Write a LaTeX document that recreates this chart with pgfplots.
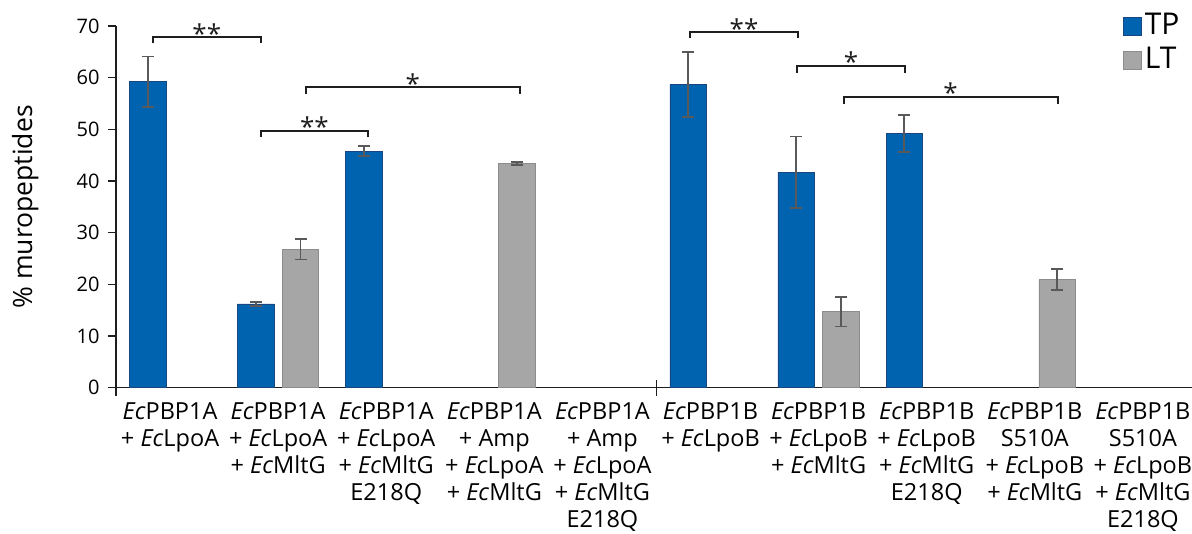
\documentclass[border=0pt]{standalone}
\usepackage{pgfplots}
\pgfplotsset{compat=1.18}
\usepackage{fontspec}
\setmainfont{Open Sans}
\definecolor{tpblue}{RGB}{0,99,175}
\definecolor{tpedge}{RGB}{25,70,130}
\definecolor{ltgray}{RGB}{166,166,166}
\definecolor{ltedge}{RGB}{140,140,140}
\definecolor{errc}{RGB}{89,89,89}
\definecolor{axc}{RGB}{30,30,30}
\begin{document}
\begin{tikzpicture}
\path[use as bounding box] (0pt,0pt) rectangle (1192pt,534pt);
\begin{axis}[
  at={(116pt,146.3pt)}, anchor=south west,
  scale only axis, width=1081pt, height=361.7pt,
  xmin=-0.5, xmax=9.5, ymin=0, ymax=70,
  ybar, bar width=0.338,
  axis x line=bottom, axis y line=left,
  axis line style={-, line width=1.6pt, axc},
  ytick={0,10,...,70},
  tick align=outside,
  major tick length=8pt,
  ytick style={line width=1.5pt, axc},
  xtick={0,...,9},
  xtick style={draw=none},
  xticklabels={
    {\textit{Ec}PBP1A\\+ \textit{Ec}LpoA},
    {\textit{Ec}PBP1A\\+ \textit{Ec}LpoA\\+ \textit{Ec}MltG},
    {\textit{Ec}PBP1A\\+ \textit{Ec}LpoA\\+ \textit{Ec}MltG\\E218Q},
    {\textit{Ec}PBP1A\\+ Amp\\+ \textit{Ec}LpoA\\+ \textit{Ec}MltG},
    {\textit{Ec}PBP1A\\+ Amp\\+ \textit{Ec}LpoA\\+ \textit{Ec}MltG\\E218Q},
    {\textit{Ec}PBP1B\\+ \textit{Ec}LpoB},
    {\textit{Ec}PBP1B\\+ \textit{Ec}LpoB\\+ \textit{Ec}MltG},
    {\textit{Ec}PBP1B\\+ \textit{Ec}LpoB\\+ \textit{Ec}MltG\\E218Q},
    {\textit{Ec}PBP1B\\S510A\\+ \textit{Ec}LpoB\\+ \textit{Ec}MltG},
    {\textit{Ec}PBP1B\\S510A\\+ \textit{Ec}LpoB\\+ \textit{Ec}MltG\\E218Q}},
  xticklabel style={align=center, font=\fontsize{23.5}{27}\selectfont, anchor=north, yshift=-3pt},
  extra x ticks={-0.5,4.5},
  extra x tick labels={},
  extra x tick style={xtick style={draw=axc, line width=1.5pt}, major tick length=16pt, tick align=center},
  yticklabel style={font=\fontsize{20}{24}\selectfont, xshift=-5pt},
  /pgf/number format/assume math mode=true,
  ylabel={\% muropeptides},
  ylabel style={font=\fontsize{26.5}{30}\selectfont, at={(axis description cs:-0.084,0.5)}, anchor=center},
  legend style={at={(axis description cs:0.9315,1.045)}, anchor=north west, draw=none, fill=none,
    font=\fontsize{30}{34}\selectfont, row sep=5pt, inner sep=0pt, nodes={inner sep=3pt}},
  legend cell align=left,
  clip=false,
  error bars/y dir=both, error bars/y explicit,
  error bars/error bar style={draw=errc, line width=1.8pt},
  error bars/error mark options={draw=errc, line width=1.8pt, mark size=6pt, rotate=90},
]
\addplot[bar shift=-0.207, fill=tpblue, draw=tpedge, line width=0.7pt,
  legend image code/.code={\draw[fill=tpblue, draw=tpedge, line width=0.7pt] (0pt,-11pt) rectangle (18pt,7pt);}]
coordinates {
  (0,59.2) +- (0,4.9)
  (1,16.2) +- (0,0.4)
  (2,45.8) +- (0,0.95)
  (5,58.7) +- (0,6.3)
  (6,41.7) +- (0,6.9)
  (7,49.2) +- (0,3.6)
};
\addlegendentry{TP}
\addplot[bar shift=0.207, fill=ltgray, draw=ltedge, line width=0.7pt,
  legend image code/.code={\draw[fill=ltgray, draw=ltedge, line width=0.7pt] (0pt,-11pt) rectangle (18pt,7pt);}]
coordinates {
  (1,26.8) +- (0,2.0)
  (3,43.4) +- (0,0.3)
  (6,14.7) +- (0,2.85)
  (8,20.9) +- (0,2.05)
};
\addlegendentry{LT}
% significance brackets
\begin{scope}[line width=2pt, axc]
\draw (axis cs:-0.159,66.65) |- (axis cs:0.84,67.8) -- (axis cs:0.84,66.65);
\draw (axis cs:0.84,48.6) |- (axis cs:1.83,49.74) -- (axis cs:1.83,48.6);
\draw (axis cs:1.256,56.8) |- (axis cs:3.236,58.1) -- (axis cs:3.236,56.8);
\draw (axis cs:4.81,67.6) |- (axis cs:5.805,68.8) -- (axis cs:5.805,67.6);
\draw (axis cs:5.80,60.97) |- (axis cs:6.797,62.3) -- (axis cs:6.797,60.97);
\draw (axis cs:6.236,54.85) |- (axis cs:8.213,56.3) -- (axis cs:8.213,54.85);
\end{scope}
\begin{scope}[every node/.style={font=\fontsize{26}{26}\selectfont, anchor=base, yshift=-6pt, inner sep=0pt, text=axc}]
\node at (axis cs:0.34,67.8) {**};
\node at (axis cs:1.335,49.74) {**};
\node at (axis cs:2.246,58.1) {*};
\node at (axis cs:5.31,68.8) {**};
\node at (axis cs:6.30,62.3) {*};
\node at (axis cs:7.22,56.3) {*};
\end{scope}
\end{axis}
\end{tikzpicture}
\end{document}
